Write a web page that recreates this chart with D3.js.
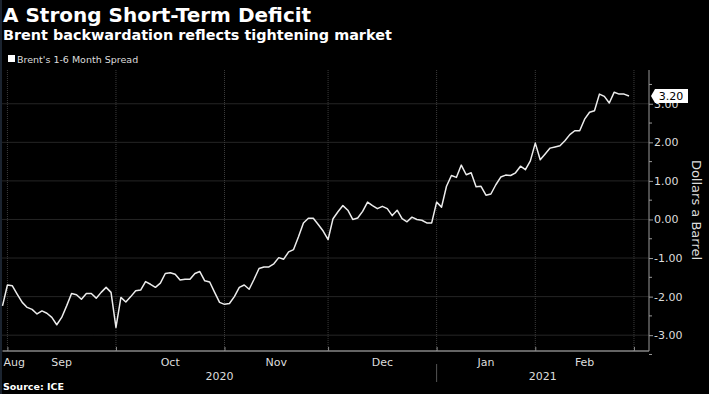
<!DOCTYPE html>
<html>
<head>
<meta charset="utf-8">
<script src="https://cdn.jsdelivr.net/npm/d3@7"></script>
<style>
  html, body { margin: 0; padding: 0; background: #000; }
  svg { display: block; font-family: "DejaVu Sans", Verdana, sans-serif; }
</style>
</head>
<body>
<div id="chart"></div>
<script>
// Brent 1-6 month spread, one value per trading day, Aug 31 2020 .. Feb 26 2021
const spread = [
  -2.24, -1.70, -1.72, -1.94, -2.15, -2.28, -2.33, -2.45, -2.37, -2.43,
  -2.54, -2.73, -2.54, -2.24, -1.92, -1.95, -2.07, -1.92, -1.92, -2.04,
  -1.89, -1.76, -1.89, -2.80, -2.02, -2.14, -2.00, -1.85, -1.83, -1.61,
  -1.68, -1.76, -1.65, -1.40, -1.38, -1.42, -1.57, -1.55, -1.55, -1.40,
  -1.35, -1.59, -1.62, -1.89, -2.15, -2.20, -2.18, -2.00, -1.76, -1.70,
  -1.81, -1.55, -1.27, -1.23, -1.23, -1.15, -0.99, -1.03, -0.84, -0.78,
  -0.45, -0.09, 0.03, 0.03, -0.13, -0.30, -0.52, 0.02, 0.20, 0.36,
  0.24, 0.00, 0.04, 0.21, 0.45, 0.36, 0.28, 0.34, 0.28, 0.10,
  0.24, 0.02, -0.06, 0.06, 0.00, -0.02, -0.09, -0.09, 0.45, 0.32,
  0.86, 1.14, 1.09, 1.41, 1.16, 1.21, 0.85, 0.86, 0.63, 0.66,
  0.90, 1.10, 1.15, 1.14, 1.21, 1.38, 1.29, 1.52, 1.98, 1.55,
  1.70, 1.85, 1.88, 1.91, 2.04, 2.20, 2.30, 2.30, 2.60, 2.78,
  2.82, 3.25, 3.19, 3.02, 3.30, 3.25, 3.25, 3.20
];

// trading-day index where each month starts (last entry = Mar 1)
const monthLabels = ["Aug", "Sep", "Oct", "Nov", "Dec", "Jan", "Feb"];
const monthStarts = [0, 1, 23, 45, 66, 88, 108, 128];
const yearLabels = ["2020", "2021"];
const yearStarts = [0, 88];
const yTicks = [-3, -2, -1, 0, 1, 2, 3];
const yMinor = [-3.5, -2.5, -1.5, -0.5, 0.5, 1.5, 2.5, 3.5];

const width = 709, height = 394;
const plotL = 2.5, plotR = 649, plotT = 70, plotB = 351;

const svg = d3.select("#chart").append("svg")
  .attr("width", width)
  .attr("height", height);

svg.append("rect").attr("width", width).attr("height", height).attr("fill", "#000");
svg.append("rect").attr("width", 2).attr("height", height).attr("fill", "#1b2430");

const x = d3.scaleLinear()
  .domain([0, 131.05])
  .range([plotL, plotR]);

const y = d3.scaleLinear()
  .domain([-3.41, 3.875])
  .range([plotB, plotT]);

// title block
svg.append("text").attr("x", 3).attr("y", 22)
  .attr("fill", "#fff").attr("font-size", 20).attr("font-weight", "bold")
  .text("A Strong Short-Term Deficit");
svg.append("text").attr("x", 3).attr("y", 40)
  .attr("fill", "#fff").attr("font-size", 14.4).attr("font-weight", "bold")
  .text("Brent backwardation reflects tightening market");

svg.append("rect").attr("x", 8).attr("y", 55).attr("width", 7).attr("height", 7).attr("fill", "#fff");
svg.append("text").attr("x", 17).attr("y", 62.5)
  .attr("fill", "#ddd").attr("font-size", 9.5)
  .text("Brent's 1-6 Month Spread");

// grid
svg.append("g")
  .selectAll("line")
  .data(yTicks)
  .join("line")
  .attr("x1", plotL).attr("x2", plotR)
  .attr("y1", d => y(d)).attr("y2", d => y(d))
  .attr("stroke", "#4a4a4a").attr("stroke-dasharray", "1,1");

svg.append("g")
  .selectAll("line")
  .data(monthStarts.slice(1))
  .join("line")
  .attr("x1", d => x(d)).attr("x2", d => x(d))
  .attr("y1", plotT).attr("y2", plotB)
  .attr("stroke", "#3c3c3c").attr("stroke-dasharray", "1,1");

// x axis
const xAxis = svg.append("g")
  .attr("transform", `translate(0,${plotB})`)
  .call(d3.axisBottom(x).tickValues(monthStarts.slice(1)).tickSize(-4).tickFormat(""));
xAxis.select(".domain").attr("stroke", "#c8c8c8").attr("d", `M${plotL},0H${plotR}`);
xAxis.selectAll(".tick line").attr("stroke", "#888");

svg.append("g")
  .selectAll("text")
  .data(monthLabels)
  .join("text")
  .attr("x", (d, i) => i === 0 ? x(monthStarts[0]) + 1 : (x(monthStarts[i]) + x(monthStarts[i + 1])) / 2)
  .attr("y", 366)
  .attr("text-anchor", (d, i) => i === 0 ? "start" : "middle")
  .attr("fill", "#ddd").attr("font-size", 11)
  .text(d => d);

const yearEnds = yearStarts.slice(1).concat([x.domain()[1]]);
svg.append("g")
  .selectAll("text")
  .data(yearLabels)
  .join("text")
  .attr("x", (d, i) => (x(yearStarts[i]) + x(yearEnds[i])) / 2)
  .attr("y", 380)
  .attr("text-anchor", "middle")
  .attr("fill", "#ddd").attr("font-size", 11)
  .text(d => d);

svg.append("line")
  .attr("x1", x(yearStarts[1])).attr("x2", x(yearStarts[1]))
  .attr("y1", 364).attr("y2", 382)
  .attr("stroke", "#555");

// y axis on the right
const yAxis = svg.append("g")
  .attr("transform", `translate(${plotR},0)`)
  .call(d3.axisRight(y).tickValues(yTicks).tickSize(4).tickPadding(1).tickFormat(d => d.toFixed(2)));
yAxis.select(".domain").attr("stroke", "#999").attr("d", `M0,${plotT}V${plotB}`);
yAxis.selectAll(".tick line").attr("stroke", "#999");
yAxis.selectAll(".tick text").attr("fill", "#ddd").attr("font-size", 11)
  .attr("font-family", "DejaVu Sans, sans-serif");

svg.append("g")
  .selectAll("line")
  .data(yMinor)
  .join("line")
  .attr("x1", plotR).attr("x2", plotR + 3)
  .attr("y1", d => y(d)).attr("y2", d => y(d))
  .attr("stroke", "#999");

svg.append("text")
  .attr("transform", `translate(692,210) rotate(90)`)
  .attr("text-anchor", "middle")
  .attr("fill", "#ddd").attr("font-size", 13)
  .text("Dollars a Barrel");

// the series
const line = d3.line()
  .x((d, i) => x(i))
  .y(d => y(d));

svg.append("path")
  .datum(spread)
  .attr("fill", "none")
  .attr("stroke", "#ececec")
  .attr("stroke-width", 1.5)
  .attr("stroke-linejoin", "round")
  .attr("d", line);

// last value tag (sits over the 3.00 label, as in the original)
const last = spread[spread.length - 1];
const ty = y(last);
svg.append("path")
  .attr("d", `M${plotR + 2},${ty} L${plotR + 6},${ty - 7} H${plotR + 39} V${ty + 7} H${plotR + 6} Z`)
  .attr("fill", "#fff");
svg.append("text")
  .attr("x", plotR + 22).attr("y", ty + 4)
  .attr("text-anchor", "middle")
  .attr("fill", "#000").attr("font-size", 11)
  .text(last.toFixed(2));

svg.append("text").attr("x", 3).attr("y", 390)
  .attr("fill", "#fff").attr("font-size", 9.5).attr("font-weight", "bold")
  .text("Source: ICE");
</script>
</body>
</html>
